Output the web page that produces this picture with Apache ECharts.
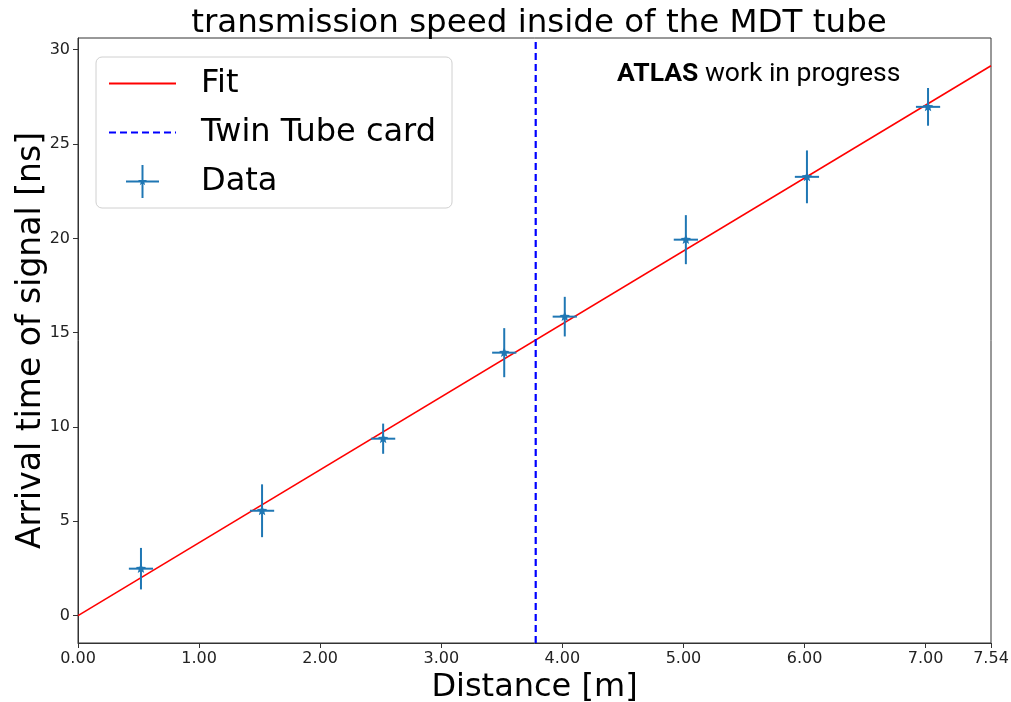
<!DOCTYPE html>
<html>
<head>
<meta charset="utf-8">
<script src="https://cdn.jsdelivr.net/npm/echarts@6/dist/echarts.min.js"></script>
<style>
html,body{margin:0;padding:0;background:#fff;}
#chart{width:1011px;height:702px;}
</style>
</head>
<body>
<div id="chart"></div>
<script>
// ---- data ----
var distance = [0.52, 1.52, 2.52, 3.52, 4.02, 5.02, 6.02, 7.02];
var arrival = [2.49, 5.56, 9.38, 13.94, 15.85, 19.93, 23.26, 26.97];
var distErr = [0.1, 0.1, 0.1, 0.1, 0.1, 0.1, 0.1, 0.1];
var arrivalErr = [1.1, 1.4, 0.8, 1.3, 1.05, 1.3, 1.4, 1.0];
var fitX = [0, 7.54];
var fitY = [0.0, 29.15];
var twinTubeX = 3.78;
var xTicks = [0, 1, 2, 3, 4, 5, 6, 7, 7.54];
var yTicks = [0, 5, 10, 15, 20, 25, 30];
var xRange = [0, 7.54];
var yRange = [-1.45, 30.62];

var chart = echarts.init(document.getElementById('chart'), null, {renderer: 'canvas'});
var dataColor = '#1f77b4';
var font = 'DejaVu Sans';

var errData = distance.map(function (d, i) { return [d, arrival[i], distErr[i], arrivalErr[i]]; });
var fitData = fitX.map(function (x, i) { return [x, fitY[i]]; });
var twinData = [[twinTubeX, yRange[0]], [twinTubeX, yRange[1]]];

function starPoints(cx, cy, ro, ri) {
  var pts = [];
  for (var k = 0; k < 10; k++) {
    var a = (-90 + k * 36) * Math.PI / 180;
    var r = (k % 2 === 0) ? ro : ri;
    pts.push([cx + r * Math.cos(a), cy + r * Math.sin(a)]);
  }
  return pts;
}

var dataIcon = 'path://M47,0H53V100H47Z M0,47H100V53H0Z M50,36L53.2,45.6L63.3,45.7L55.2,51.7L58.2,61.3L50,55.5L41.8,61.3L44.8,51.7L36.7,45.7L46.8,45.6Z';

var option = {
  animation: false,
  backgroundColor: '#fff',
  title: {
    text: 'transmission speed inside of the MDT tube',
    left: 534, textAlign: 'center', top: 2,
    textStyle: {fontFamily: font, fontSize: 32.5, fontWeight: 'normal', color: '#000'}
  },
  grid: {left: 78, right: 20, top: 38, bottom: 59, outerBoundsMode: 'none', containLabel: false,
    show: true, borderColor: '#333', borderWidth: 1, backgroundColor: 'transparent'},
  legend: {
    orient: 'vertical', left: 96, top: 57,
    padding: [10, 16, 10, 12],
    itemWidth: 67, itemHeight: 33, itemGap: 16,
    selectedMode: false,
    backgroundColor: 'rgba(255,255,255,0.85)',
    borderColor: '#d0d0d0', borderWidth: 1, borderRadius: 6,
    textStyle: {fontFamily: font, fontSize: 32, color: '#000', padding: [0, 0, 0, 20], lineHeight: 33},
    data: [
      {name: 'Fit', itemStyle: {opacity: 0}},
      {name: 'Twin Tube card', itemStyle: {opacity: 0}},
      {name: 'Data', icon: dataIcon}
    ]
  },
  xAxis: {
    type: 'value', min: xRange[0], max: xRange[1],
    name: 'Distance [m]', nameLocation: 'middle', nameGap: 29, nameMoveOverlap: false,
    nameTextStyle: {fontFamily: font, fontSize: 32, color: '#000'},
    axisLine: {show: true, onZero: false, lineStyle: {color: '#333', width: 1}},
    axisTick: {show: true, length: 5, lineStyle: {color: '#333'}, customValues: xTicks},
    axisLabel: {fontFamily: font, fontSize: 16, color: '#222', margin: 8, customValues: xTicks,
      formatter: function (v) { return v.toFixed(2); }},
    splitLine: {show: false}
  },
  yAxis: {
    type: 'value', min: yRange[0], max: yRange[1],
    name: 'Arrival time of signal [ns]', nameLocation: 'middle', nameGap: 30, nameMoveOverlap: false,
    nameTextStyle: {fontFamily: font, fontSize: 33, color: '#000'},
    axisLine: {show: true, onZero: false, lineStyle: {color: '#333', width: 1}},
    axisTick: {show: true, length: 5, lineStyle: {color: '#333'}, customValues: yTicks},
    axisLabel: {fontFamily: font, fontSize: 16, color: '#222', margin: 8, customValues: yTicks},
    splitLine: {show: false}
  },
  graphic: [{
    type: 'text', left: 617, top: 61,
    style: {
      text: '{b|ATLAS}{n| work in progress}',
      rich: {
        b: {fontFamily: 'Roboto', fontWeight: 'bold', fontSize: 26.5, fill: '#000'},
        n: {fontFamily: 'Roboto', fontSize: 26.5, fill: '#000'}
      }
    }
  }],
  series: [
    {
      name: 'Fit', type: 'line', data: fitData, symbol: 'none', z: 3,
      lineStyle: {color: '#ff0000', width: 1.6}, itemStyle: {color: '#ff0000'}
    },
    {
      name: 'Twin Tube card', type: 'line', data: twinData, symbol: 'none', z: 4,
      lineStyle: {color: '#0000ff', width: 2.2, type: [7, 4]}, itemStyle: {color: '#0000ff'}
    },
    {
      name: 'Data', type: 'custom', data: errData, z: 5,
      itemStyle: {color: dataColor},
      renderItem: function (params, api) {
        var x = api.value(0), y = api.value(1), xe = api.value(2), ye = api.value(3);
        var c = api.coord([x, y]);
        var l = api.coord([x - xe, y]), r = api.coord([x + xe, y]);
        var t = api.coord([x, y + ye]), b = api.coord([x, y - ye]);
        var st = {stroke: dataColor, lineWidth: 2};
        return {
          type: 'group',
          children: [
            {type: 'line', shape: {x1: l[0], y1: l[1], x2: r[0], y2: r[1]}, style: st},
            {type: 'line', shape: {x1: t[0], y1: t[1], x2: b[0], y2: b[1]}, style: st},
            {type: 'polygon', shape: {points: starPoints(c[0], c[1], 5.5, 2.4)}, style: {fill: dataColor}}
          ]
        };
      }
    }
  ]
};
chart.setOption(option);
</script>
</body>
</html>
